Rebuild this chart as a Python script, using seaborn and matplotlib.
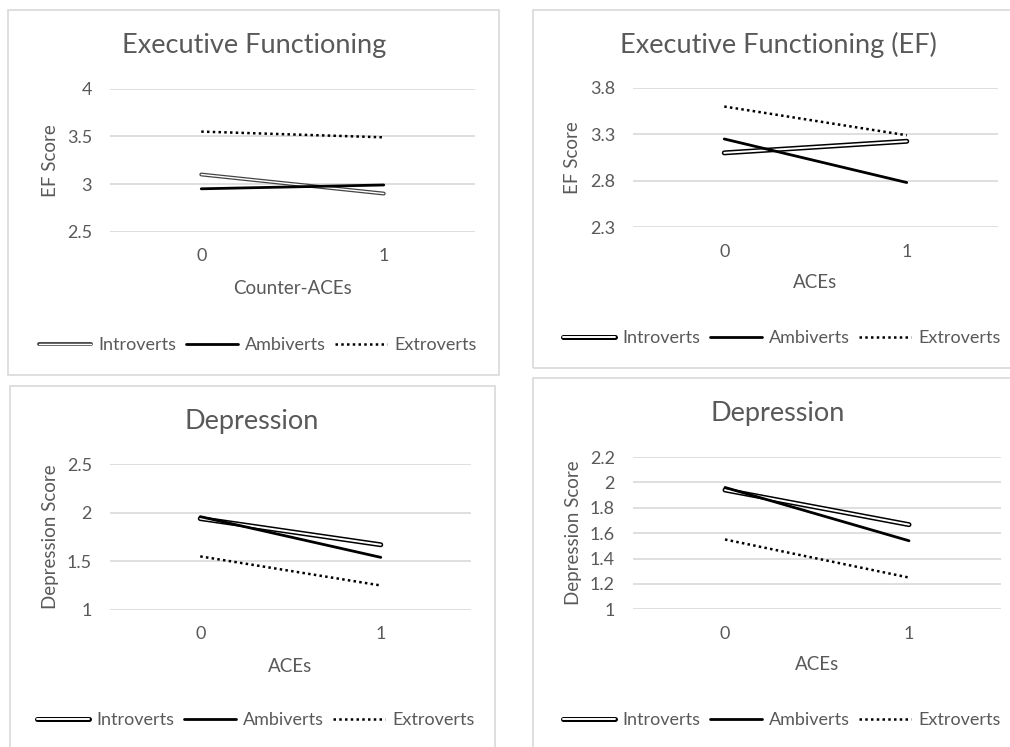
import matplotlib
matplotlib.use("Agg")
import matplotlib.pyplot as plt
import matplotlib.patheffects as pe
from matplotlib.patches import Rectangle
import numpy as np
import pandas as pd
import seaborn as sns

# ---- data ----
GROUPS = ["Introverts", "Ambiverts", "Extroverts"]
LEVELS = [0, 1]

ef_counter_aces = {"Introverts": [3.10, 2.90], "Ambiverts": [2.95, 2.99], "Extroverts": [3.55, 3.49]}
ef_aces = {"Introverts": [3.10, 3.225], "Ambiverts": [3.25, 2.78], "Extroverts": [3.60, 3.29]}
dep_aces_a = {"Introverts": [1.94, 1.67], "Ambiverts": [1.96, 1.54], "Extroverts": [1.55, 1.25]}
dep_aces_b = {"Introverts": [1.94, 1.667], "Ambiverts": [1.96, 1.54], "Extroverts": [1.55, 1.25]}

TITLES = ["Executive Functioning", "Executive Functioning (EF)", "Depression", "Depression"]
XLABELS = ["Counter-ACEs", "ACEs", "ACEs", "ACEs"]
YLABELS = ["EF Score", "EF Score", "Depression Score", "Depression Score"]
YTICKS = [
    [2.5, 3, 3.5, 4],
    [2.3, 2.8, 3.3, 3.8],
    [1, 1.5, 2, 2.5],
    [1, 1.2, 1.4, 1.6, 1.8, 2, 2.2],
]

W, H = 1010, 747
TXT = "#595959"
GRID = "#d9d9d9"

sns.set_theme(style="white")
plt.rcParams["font.family"] = ["Lato", "DejaVu Sans"]


def fx(px):
    return px / W


def fy(py):
    return 1 - py / H


def long_df(series):
    rows = []
    for g in GROUPS:
        for lvl, v in zip(LEVELS, series[g]):
            rows.append({"x": lvl, "score": v, "group": g})
    return pd.DataFrame(rows)


# panel layout in pixels: box (x0, y0, x1, y1), plot area (l, t, r, b),
# title centre (tx, ty), legend centre (lx, ly), xlabel y, ylabel x
PANELS = [
    dict(box=(8, 10, 499, 375), area=(110, 88.7, 475, 231.7), tx=254, ty=45, lx=258, ly=345, xly=288, ylx=50, thin=True),
    dict(box=(533, 10, 1012, 368), area=(633, 88, 998, 227), tx=778, ty=45, lx=782, ly=338, xly=283, ylx=573, thin=False),
    dict(box=(10, 386, 495, 750), area=(110, 464.3, 471, 609.7), tx=252, ty=422, lx=256, ly=720, xly=666, ylx=50, thin=False),
    dict(box=(533, 378, 1012, 750), area=(633, 457, 1001, 609.3), tx=778, ty=413, lx=782, ly=720, xly=665, ylx=573, thin=False),
]
DATASETS = [ef_counter_aces, ef_aces, dep_aces_a, dep_aces_b]

fig = plt.figure(figsize=(W / 100, H / 100), dpi=100)
fig.patch.set_facecolor("white")

for i, (p, data) in enumerate(zip(PANELS, DATASETS)):
    x0, y0, x1, y1 = p["box"]
    fig.patches.append(Rectangle((fx(x0), fy(y1)), fx(x1 - x0), (y1 - y0) / H,
                                 transform=fig.transFigure, fill=False,
                                 edgecolor=GRID, linewidth=1.2))
    l, t, r, b = p["area"]
    ax = fig.add_axes([fx(l), fy(b), fx(r - l), (b - t) / H])
    df = long_df(data)
    sns.lineplot(data=df, x="x", y="score", hue="group", style="group",
                 palette={g: "black" for g in GROUPS},
                 dashes={"Introverts": "", "Ambiverts": "", "Extroverts": (1, 1.3)},
                 hue_order=GROUPS, style_order=GROUPS, legend=False, ax=ax)
    intro, ambi, extro = ax.lines[:3]
    if p["thin"]:
        intro.set_linewidth(1.0)
        intro.set_color("white")
        intro.set_path_effects([pe.Stroke(linewidth=2.8, foreground="#444444"), pe.Normal()])
    else:
        intro.set_linewidth(1.4)
        intro.set_color("white")
        intro.set_path_effects([pe.Stroke(linewidth=3.6, foreground="black"), pe.Normal()])
    intro.set_solid_capstyle("round")
    ambi.set_linewidth(2.0)
    extro.set_linewidth(1.8)
    for ln, g in zip(ax.lines[:3], GROUPS):
        ln.set_label(g)

    ax.set_xlim(-0.5, 1.5)
    ax.set_xticks(LEVELS)
    ax.set_xticklabels([str(v) for v in LEVELS])
    ticks = YTICKS[i]
    ax.set_ylim(ticks[0], ticks[-1])
    ax.set_yticks(ticks)
    ax.set_yticklabels([f"{v:g}" for v in ticks])
    ax.grid(axis="y", color=GRID, linewidth=1.2)
    ax.set_axisbelow(True)
    for s in ax.spines.values():
        s.set_visible(False)
    ax.tick_params(axis="both", length=0, labelsize=13, colors=TXT)
    ax.tick_params(axis="y", pad=13)
    ax.tick_params(axis="x", pad=12)

    ax.set_xlabel(XLABELS[i], fontsize=13.5, color=TXT)
    ax.xaxis.set_label_coords(0.5, (b - p["xly"]) / (b - t))
    ax.xaxis.label.set_va("center")
    ax.set_ylabel(YLABELS[i], fontsize=13.5, color=TXT)
    ax.yaxis.set_label_coords((p["ylx"] - l) / (r - l), 0.5)
    ax.yaxis.label.set_va("center")

    fig.text(fx(p["tx"]), fy(p["ty"]), TITLES[i], fontsize=19.5,
             color=TXT, ha="center", va="center")

    leg = ax.legend(handles=ax.lines[:3], loc="center",
                    bbox_to_anchor=(fx(p["lx"]), fy(p["ly"])),
                    bbox_transform=fig.transFigure, ncol=3, frameon=False,
                    fontsize=13, handlelength=2.9, handletextpad=0.4,
                    columnspacing=0.5, borderpad=0)
    for txt in leg.get_texts():
        txt.set_color(TXT)

fig.savefig("out.png", dpi=100, facecolor="white")
